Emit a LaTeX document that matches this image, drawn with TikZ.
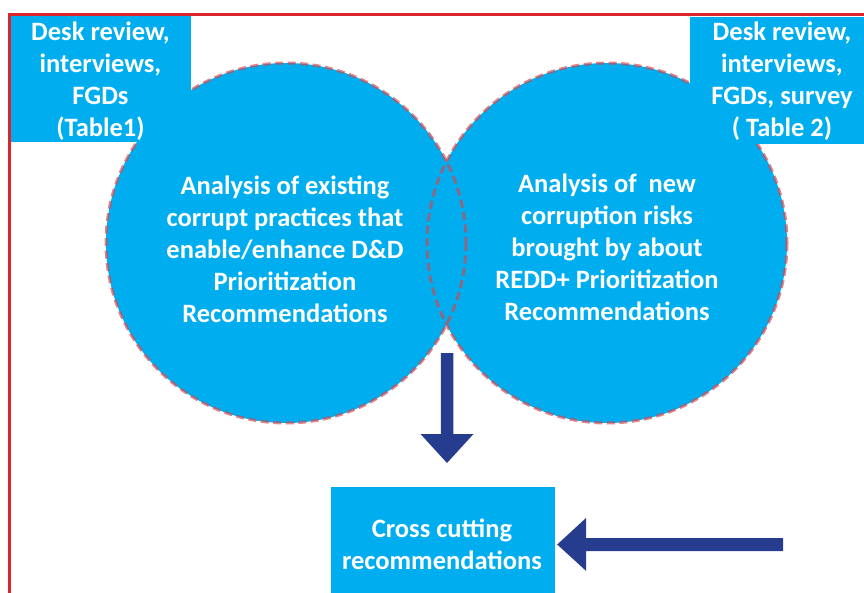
\documentclass[tikz,border=0pt]{standalone}
\usepackage{fontspec}
\setmainfont{Carlito}
\definecolor{cyanb}{RGB}{0,174,239}
\definecolor{arrowblue}{RGB}{38,61,143}
\definecolor{framered}{RGB}{218,37,44}
\definecolor{dashred}{RGB}{210,70,80}
\begin{document}
\begin{tikzpicture}[x=1pt,y=-1pt,
  bluecirc/.style={circle, fill=cyanb, draw=none, minimum size=360pt, inner sep=0pt},
  circout/.style={draw=dashred, draw opacity=0.65, line width=3pt, dash pattern=on 8pt off 4.5pt},
  bluebox/.style={rectangle, fill=cyanb, draw=none, inner sep=0pt},
  lbl/.style={text=white, font=\fontsize{26.5}{32}\selectfont\bfseries, align=center, inner sep=0pt},
  arrowfill/.style={fill=arrowblue},
  frameline/.style={draw=framered, line width=3pt}]
\useasboundingbox (0,0) rectangle (864,592);
\clip (0,0) rectangle (864,592);
% frame
\draw[frameline] (9,600) -- (9,14.5) -- (870,14.5);
% circles
\node[bluecirc] (L) at (286,243) {};
\node[bluecirc] (R) at (607,243) {};
\draw[circout] (L.center) circle (180);
\draw[circout] (R.center) circle (180);
% source boxes
\node[bluebox, minimum width=179.5pt, minimum height=126pt] (srcL) at (100.75,79) {};
\node[lbl] (srcLt) at (100.5,81.5) {Desk review,\\interviews,\\FGDs\\(Table1)};
\node[bluebox, minimum width=184pt, minimum height=127pt] (srcR) at (782,80.5) {};
\node[lbl] (srcRt) at (782,81.5) {Desk review,\\interviews,\\FGDs, survey\\( Table 2)};
% circle texts
\node[lbl] (Lt) at (285,249) {Analysis of existing\\corrupt practices that\\enable/enhance D\&D\\Prioritization\\Recommendations};
\node[lbl] (Rt) at (607,247) {Analysis of\ \ new\\corruption risks\\brought by about\\REDD+ Prioritization\\Recommendations};
% result box
\node[bluebox, minimum width=224pt, minimum height=114pt] (cross) at (443,544) {};
\node[lbl] (crosst) at (442,544) {Cross cutting\\recommendations};
% down arrow
\coordinate (dA) at (447,353);
\coordinate (dB) at (447,463);
\fill[arrowfill] (dA) ++(-6.25,0) -- ++(0,81) -- ++(-20.25,0) -- (dB) -- ++(26.5,-29) -- ++(-20.25,0) -- ++(0,-81) -- cycle;
% left arrow
\coordinate (lE) at (783,544.5);
\coordinate (lT) at ([xshift=2pt]cross.east |- lE);
\fill[arrowfill] (lE) ++(0,-6.5) -- ++(-197,0) -- ++(0,-20) -- (lT) -- ++(29,26.5) -- ++(0,-20) -- ++(197,0) -- cycle;
\end{tikzpicture}
\end{document}
